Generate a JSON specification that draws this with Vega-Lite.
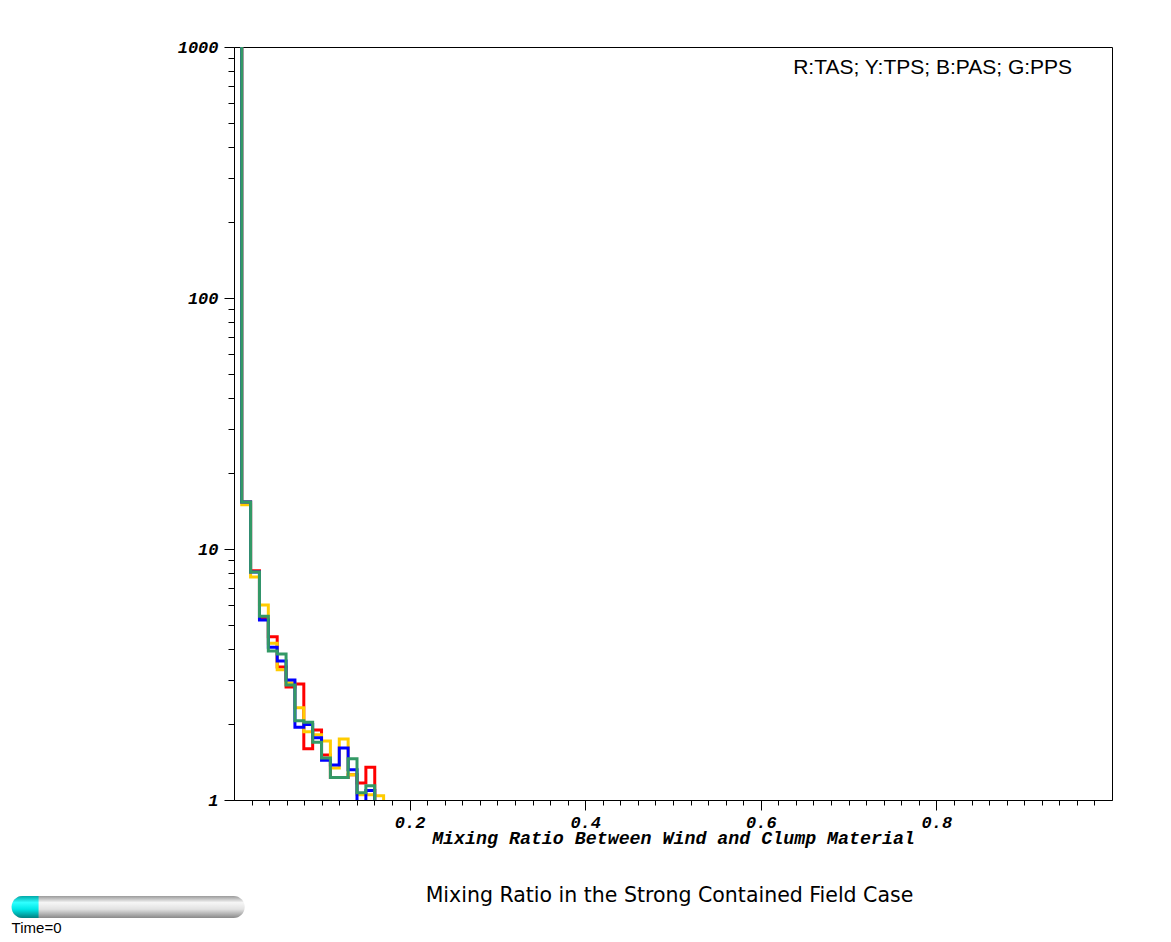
{
  "$schema": "https://vega.github.io/schema/vega-lite/v6.json",
  "width": 878,
  "height": 753,
  "autosize": {"type": "none"},
  "padding": {"left": 234, "top": 47, "right": 59, "bottom": 142},
  "background": "white",
  "config": {
    "view": {"stroke": "black", "strokeWidth": 1},
    "axis": {
      "domainColor": "black",
      "tickColor": "black",
      "labelColor": "black",
      "titleColor": "black",
      "labelFont": "Liberation Mono",
      "labelFontSize": 17,
      "labelFontStyle": "italic",
      "labelFontWeight": "bold",
      "titleFont": "Liberation Mono",
      "titleFontSize": 18.3,
      "titleFontStyle": "italic",
      "titleFontWeight": "bold",
      "grid": false,
      "labelOverlap": false,
      "labelFlush": false,
      "tickCount": 1000
    }
  },
  "datasets": {
    "hist": [
      {"s": "TAS", "x": 0, "y": 5000},
      {"s": "TAS", "x": 0.0088, "y": 15.4},
      {"s": "TAS", "x": 0.0189, "y": 8.2},
      {"s": "TAS", "x": 0.029, "y": 5.3},
      {"s": "TAS", "x": 0.0391, "y": 4.47},
      {"s": "TAS", "x": 0.0492, "y": 3.39},
      {"s": "TAS", "x": 0.0593, "y": 2.82},
      {"s": "TAS", "x": 0.0694, "y": 2.9},
      {"s": "TAS", "x": 0.0795, "y": 1.6},
      {"s": "TAS", "x": 0.0896, "y": 1.9},
      {"s": "TAS", "x": 0.0997, "y": 1.51},
      {"s": "TAS", "x": 0.1098, "y": 1.23},
      {"s": "TAS", "x": 0.1199, "y": 1.23},
      {"s": "TAS", "x": 0.13, "y": 1.26},
      {"s": "TAS", "x": 0.1401, "y": 1.17},
      {"s": "TAS", "x": 0.1502, "y": 1.35},
      {"s": "TAS", "x": 0.1603, "y": 0.1},
      {"s": "TPS", "x": 0, "y": 5000},
      {"s": "TPS", "x": 0.0088, "y": 15.0},
      {"s": "TPS", "x": 0.0189, "y": 7.74},
      {"s": "TPS", "x": 0.029, "y": 5.98},
      {"s": "TPS", "x": 0.0391, "y": 4.21},
      {"s": "TPS", "x": 0.0492, "y": 3.3},
      {"s": "TPS", "x": 0.0593, "y": 2.93},
      {"s": "TPS", "x": 0.0694, "y": 2.33},
      {"s": "TPS", "x": 0.0795, "y": 1.87},
      {"s": "TPS", "x": 0.0896, "y": 1.82},
      {"s": "TPS", "x": 0.0997, "y": 1.72},
      {"s": "TPS", "x": 0.1098, "y": 1.34},
      {"s": "TPS", "x": 0.1199, "y": 1.75},
      {"s": "TPS", "x": 0.13, "y": 1.26},
      {"s": "TPS", "x": 0.1401, "y": 1.05},
      {"s": "TPS", "x": 0.1502, "y": 1.05},
      {"s": "TPS", "x": 0.1603, "y": 1.04},
      {"s": "TPS", "x": 0.1704, "y": 0.1},
      {"s": "PAS", "x": 0, "y": 5000},
      {"s": "PAS", "x": 0.0088, "y": 15.4},
      {"s": "PAS", "x": 0.0189, "y": 8.1},
      {"s": "PAS", "x": 0.029, "y": 5.21},
      {"s": "PAS", "x": 0.0391, "y": 4.06},
      {"s": "PAS", "x": 0.0492, "y": 3.58},
      {"s": "PAS", "x": 0.0593, "y": 3.01},
      {"s": "PAS", "x": 0.0694, "y": 1.95},
      {"s": "PAS", "x": 0.0795, "y": 2.0},
      {"s": "PAS", "x": 0.0896, "y": 1.77},
      {"s": "PAS", "x": 0.0997, "y": 1.44},
      {"s": "PAS", "x": 0.1098, "y": 1.38},
      {"s": "PAS", "x": 0.1199, "y": 1.61},
      {"s": "PAS", "x": 0.13, "y": 1.32},
      {"s": "PAS", "x": 0.1401, "y": 0.1},
      {"s": "PAS", "x": 0.1502, "y": 1.09},
      {"s": "PAS", "x": 0.1603, "y": 0.1},
      {"s": "PPS", "x": 0, "y": 5000},
      {"s": "PPS", "x": 0.0088, "y": 15.4},
      {"s": "PPS", "x": 0.0189, "y": 8.1},
      {"s": "PPS", "x": 0.029, "y": 5.4},
      {"s": "PPS", "x": 0.0391, "y": 3.92},
      {"s": "PPS", "x": 0.0492, "y": 3.82},
      {"s": "PPS", "x": 0.0593, "y": 2.87},
      {"s": "PPS", "x": 0.0694, "y": 2.07},
      {"s": "PPS", "x": 0.0795, "y": 2.04},
      {"s": "PPS", "x": 0.0896, "y": 1.7},
      {"s": "PPS", "x": 0.0997, "y": 1.47},
      {"s": "PPS", "x": 0.1098, "y": 1.23},
      {"s": "PPS", "x": 0.1199, "y": 1.23},
      {"s": "PPS", "x": 0.13, "y": 1.46},
      {"s": "PPS", "x": 0.1401, "y": 1.07},
      {"s": "PPS", "x": 0.1502, "y": 1.14},
      {"s": "PPS", "x": 0.1603, "y": 0.1}
    ],
    "one": [{}]
  },
  "layer": [
    {
      "data": {"name": "hist"},
      "transform": [{"filter": "datum.s === 'TAS'"}],
      "mark": {"type": "line", "interpolate": "step-after", "color": "#ff0000", "strokeWidth": 3, "clip": true},
      "encoding": {
        "x": {
          "field": "x", "type": "quantitative",
          "scale": {"domain": [0, 1], "nice": false, "zero": false},
          "axis": {
            "title": "Mixing Ratio Between Wind and Clump Material",
            "titlePadding": -1,
            "tickCount": 1000,
            "values": [0.02,0.04,0.06,0.08,0.1,0.12,0.14,0.16,0.18,0.2,0.22,0.24,0.26,0.28,0.3,0.32,0.34,0.36,0.38,0.4,0.42,0.44,0.46,0.48,0.5,0.52,0.54,0.56,0.58,0.6,0.62,0.64,0.66,0.68,0.7,0.72,0.74,0.76,0.78,0.8,0.82,0.84,0.86,0.88,0.9,0.92,0.94,0.96,0.98],
            "labelExpr": "abs(datum.value*5 - round(datum.value*5)) < 0.000001 ? format(datum.value, '.1f') : ''",
            "tickSize": {"condition": {"test": "abs(datum.value*5 - round(datum.value*5)) < 0.000001", "value": 10}, "value": 5},
            "labelPadding": 4
          }
        },
        "y": {
          "field": "y", "type": "quantitative",
          "scale": {"type": "log", "domain": [1, 1000], "nice": false, "zero": false},
          "axis": {
            "title": null,
            "tickCount": 1000,
            "values": [1,2,3,4,5,6,7,8,9,10,20,30,40,50,60,70,80,90,100,200,300,400,500,600,700,800,900,1000],
            "labelExpr": "indexof([1,10,100,1000], datum.value) >= 0 ? format(datum.value, 'd') : ''",
            "tickSize": {"condition": {"test": "indexof([1,10,100,1000], datum.value) >= 0", "value": 10}, "value": 6},
            "labelPadding": 6
          }
        }
      }
    },
    {
      "data": {"name": "hist"},
      "transform": [{"filter": "datum.s === 'TPS'"}],
      "mark": {"type": "line", "interpolate": "step-after", "color": "#ffcc00", "strokeWidth": 3, "clip": true},
      "encoding": {
        "x": {"field": "x", "type": "quantitative", "axis": {"title": "Mixing Ratio Between Wind and Clump Material"}},
        "y": {"field": "y", "type": "quantitative", "axis": {"title": null}}
      }
    },
    {
      "data": {"name": "hist"},
      "transform": [{"filter": "datum.s === 'PAS'"}],
      "mark": {"type": "line", "interpolate": "step-after", "color": "#0000ff", "strokeWidth": 3, "clip": true},
      "encoding": {
        "x": {"field": "x", "type": "quantitative", "axis": {"title": "Mixing Ratio Between Wind and Clump Material"}},
        "y": {"field": "y", "type": "quantitative", "axis": {"title": null}}
      }
    },
    {
      "data": {"name": "hist"},
      "transform": [{"filter": "datum.s === 'PPS'"}],
      "mark": {"type": "line", "interpolate": "step-after", "color": "#339966", "strokeWidth": 3, "clip": true},
      "encoding": {
        "x": {"field": "x", "type": "quantitative", "axis": {"title": "Mixing Ratio Between Wind and Clump Material"}},
        "y": {"field": "y", "type": "quantitative", "axis": {"title": null}}
      }
    },
    {
      "data": {"name": "one"},
      "mark": {"type": "text", "text": "R:TAS; Y:TPS; B:PAS; G:PPS", "align": "right", "baseline": "middle", "font": "Liberation Sans", "fontSize": 21, "color": "black"},
      "encoding": {
        "x": {"datum": 0.9546, "type": "quantitative", "axis": {"title": "Mixing Ratio Between Wind and Clump Material"}},
        "y": {"datum": 825, "type": "quantitative", "axis": {"title": null}}
      }
    },
    {
      "data": {"name": "one"},
      "mark": {"type": "text", "text": "Mixing Ratio in the Strong Contained Field Case", "align": "center", "baseline": "middle", "font": "DejaVu Sans", "fontSize": 20.5, "color": "black"},
      "encoding": {
        "x": {"datum": 0.496, "type": "quantitative", "axis": {"title": "Mixing Ratio Between Wind and Clump Material"}},
        "y": {"datum": 0.4146, "type": "quantitative", "axis": {"title": null}}
      }
    },
    {
      "data": {"name": "one"},
      "mark": {"type": "rect", "cornerRadius": 11,
        "fill": {"gradient": "linear", "x1": 0, "y1": 0, "x2": 0, "y2": 1,
          "stops": [{"offset": 0, "color": "#9a9a9a"}, {"offset": 0.3, "color": "#f6f6f6"}, {"offset": 0.6, "color": "#e2e2e2"}, {"offset": 1, "color": "#8a8a8a"}]}},
      "encoding": {
        "x": {"datum": -0.2533, "type": "quantitative", "axis": {"title": "Mixing Ratio Between Wind and Clump Material"}},
        "x2": {"datum": 0.0122},
        "y": {"datum": 0.4146, "type": "quantitative", "axis": {"title": null}},
        "y2": {"datum": 0.3388}
      }
    },
    {
      "data": {"name": "one"},
      "mark": {"type": "rect", "cornerRadiusTopLeft": 11, "cornerRadiusBottomLeft": 11,
        "fill": {"gradient": "linear", "x1": 0, "y1": 0, "x2": 0, "y2": 1,
          "stops": [{"offset": 0, "color": "#00a8a8"}, {"offset": 0.3, "color": "#30ffff"}, {"offset": 0.6, "color": "#00e8e8"}, {"offset": 1, "color": "#008080"}]}},
      "encoding": {
        "x": {"datum": -0.2533, "type": "quantitative", "axis": {"title": "Mixing Ratio Between Wind and Clump Material"}},
        "x2": {"datum": -0.2226},
        "y": {"datum": 0.4146, "type": "quantitative", "axis": {"title": null}},
        "y2": {"datum": 0.3388}
      }
    },
    {
      "data": {"name": "one"},
      "mark": {"type": "text", "text": "Time=0", "align": "left", "baseline": "middle", "font": "Liberation Sans", "fontSize": 15, "color": "black"},
      "encoding": {
        "x": {"datum": -0.2533, "type": "quantitative", "axis": {"title": "Mixing Ratio Between Wind and Clump Material"}},
        "y": {"datum": 0.309, "type": "quantitative", "axis": {"title": null}}
      }
    }
  ]
}
